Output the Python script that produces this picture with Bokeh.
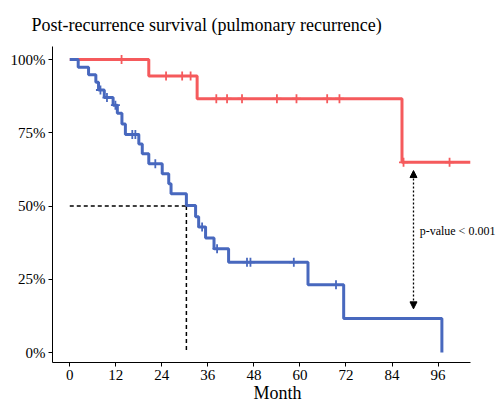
from bokeh.plotting import figure
from bokeh.models import Range1d, FixedTicker, Arrow, NormalHead, Label
from bokeh.embed import file_html
from bokeh.resources import INLINE

# ---- data ----
red_time = [0, 20.6, 33.2, 86.6, 104.4]
red_surv = [100, 94.4, 86.6, 64.9, 64.9]
red_cens_time = [13.5, 25.1, 29.3, 31.5, 38.2, 41.0, 44.9, 54.0, 59.1, 67.1, 70.3, 87.0, 99.0]
red_cens_surv = [100, 94.4, 94.4, 94.4, 86.6, 86.6, 86.6, 86.6, 86.6, 86.6, 86.6, 64.9, 64.9]

blue_time = [0, 2.2, 4.9, 6.8, 7.5, 9.0, 11.3, 12.4, 13.6, 14.5, 18.0, 18.9, 20.6, 24.1,
             25.8, 26.4, 30.4, 32.8, 33.6, 35.4, 37.6, 41.4, 62.1, 71.4, 97.0]
blue_surv = [100, 97.4, 94.8, 92.2, 89.6, 87.0, 84.4, 81.7, 78.0, 74.4, 71.2, 67.8, 64.4, 61.0,
             57.6, 54.2, 50.2, 46.3, 42.8, 39.1, 35.4, 30.8, 23.1, 11.6, 0]
blue_cens_time = [8.0, 9.7, 11.9, 16.3, 17.1, 22.3, 34.5, 38.4, 46.2, 47.1, 58.4, 69.4]
blue_cens_surv = [89.6, 87.0, 84.4, 74.4, 74.4, 64.4, 42.8, 35.4, 30.8, 30.8, 30.8, 23.1]

median_time = 30.4
median_surv = 50

x_ticks = [0, 12, 24, 36, 48, 60, 72, 84, 96]
y_ticks = [0, 25, 50, 75, 100]
y_tick_labels = ["0%", "25%", "50%", "75%", "100%"]

pval_text = "p-value < 0.001"
arrow_x = 89.6
arrow_top = 62.1
arrow_bottom = 14.9
pval_x = 91.2
pval_y = 41.4

RED = "#F55A5C"
BLUE = "#4868BE"
FONT = "Liberation Serif"

p = figure(width=502, height=405, output_backend="svg", toolbar_location=None,
           x_range=Range1d(-4.5, 112.8), y_range=Range1d(-3.41, 104.44),
           title="Post-recurrence survival (pulmonary recurrence)")
p.min_border_left = 52
p.min_border_right = 0
p.min_border_top = 46
p.min_border_bottom = 40
p.outline_line_color = None
p.xgrid.visible = False
p.ygrid.visible = False
p.background_fill_color = "white"
p.border_fill_color = "white"

p.title.text_font = FONT
p.title.text_font_size = "18px"
p.title.text_font_style = "normal"
p.title.text_color = "black"
p.title.align = "left"
p.title.offset = -21
p.title.standoff = 24

# median lines
p.line([0, median_time], [median_surv, median_surv], line_color="black", line_width=1.5, line_dash="4 3")
p.line([median_time, median_time], [median_surv, 0], line_color="black", line_width=1.5, line_dash="4 3")

# curves
p.step(red_time, red_surv, mode="after", line_color=RED, line_width=3)
p.scatter(red_cens_time, red_cens_surv, marker="cross", size=9, line_color=RED, line_width=1.8)
p.step(blue_time, blue_surv, mode="after", line_color=BLUE, line_width=3)
p.scatter(blue_cens_time, blue_cens_surv, marker="cross", size=9, line_color=BLUE, line_width=1.8)

# p-value arrow
p.add_layout(Arrow(x_start=arrow_x, y_start=arrow_top, x_end=arrow_x, y_end=arrow_bottom,
                   line_color="black", line_width=1.3, line_dash="2 2",
                   start=NormalHead(size=7, fill_color="black", line_color="black", line_dash="solid"),
                   end=NormalHead(size=7, fill_color="black", line_color="black", line_dash="solid")))
p.add_layout(Label(x=pval_x, y=pval_y, text=pval_text, text_font=FONT, text_font_size="12px",
                   text_baseline="middle", text_align="left", text_color="black"))

# axes
for ax in (p.xaxis[0], p.yaxis[0]):
    ax.axis_line_color = "black"
    ax.axis_line_width = 1
    ax.major_tick_line_color = "black"
    ax.major_tick_out = 4
    ax.major_tick_in = 0
    ax.minor_tick_line_color = None
    ax.major_label_text_font = FONT
    ax.major_label_text_font_size = "15px"
    ax.major_label_text_color = "black"
    ax.major_label_standoff = 3

p.xaxis.bounds = (-4.5, 104.4)
p.xaxis.ticker = FixedTicker(ticks=x_ticks)
p.yaxis.ticker = FixedTicker(ticks=y_ticks)
p.yaxis.major_label_overrides = {t: l for t, l in zip(y_ticks, y_tick_labels)}
p.xaxis.axis_label = "Month"
p.xaxis.axis_label_text_font = FONT
p.xaxis.axis_label_text_font_size = "18px"
p.xaxis.axis_label_text_font_style = "normal"
p.xaxis.axis_label_text_color = "black"
p.xaxis.axis_label_standoff = 0

open("out.html", "w").write(file_html(p, INLINE))
